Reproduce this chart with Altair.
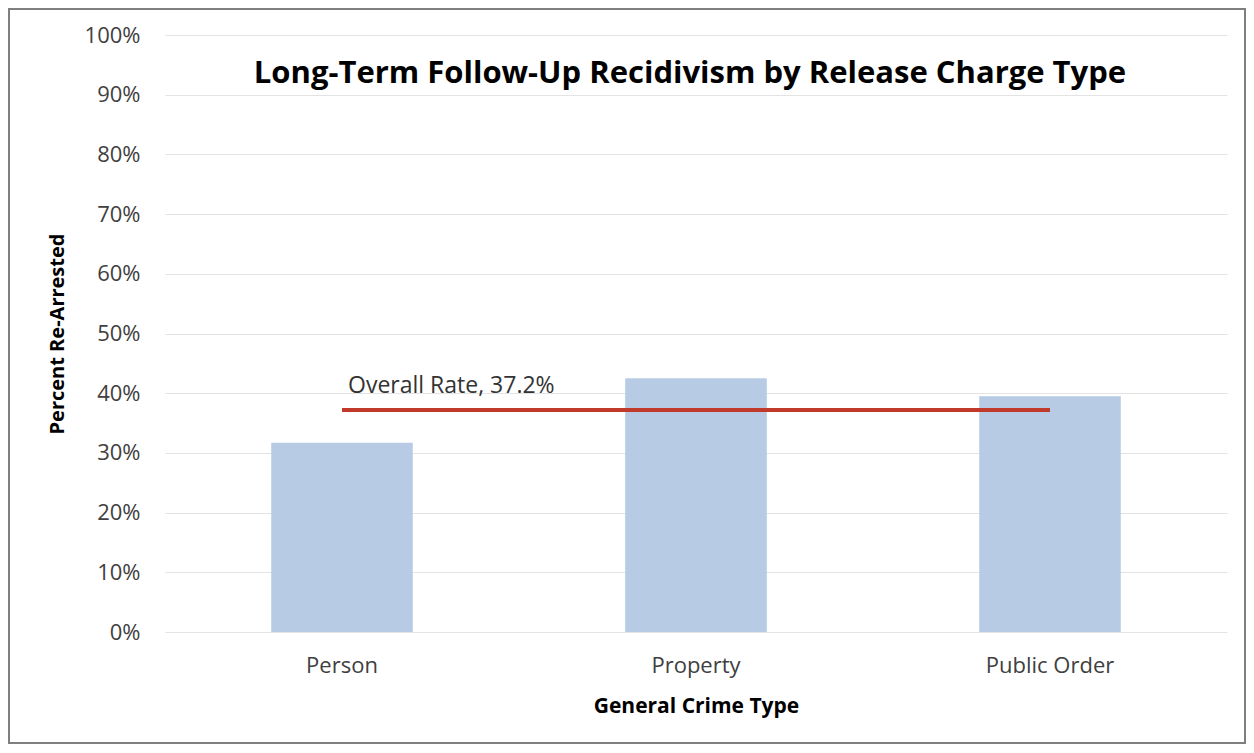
import altair as alt
import pandas as pd

categories = ["Person", "Property", "Public Order"]
rates = [31.7, 42.5, 39.5]
overall_rate = 37.2
overall_label = "Overall Rate, 37.2%"
title_text = "Long-Term Follow-Up Recidivism by Release Charge Type"
y_ticks = [0, 10, 20, 30, 40, 50, 60, 70, 80, 90, 100]

FONT = "Open Sans"

bars_df = pd.DataFrame({"type": categories, "rate": rates})
overall_df = pd.DataFrame({
    "start": [categories[0]],
    "end": [categories[-1]],
    "rate": [overall_rate],
    "label": [overall_label],
})

x_enc = alt.X(
    "type:N",
    sort=categories,
    scale=alt.Scale(domain=categories, paddingInner=0.6, paddingOuter=0.3),
    axis=alt.Axis(
        title="General Crime Type",
        titleFont=FONT, titleFontSize=21, titleFontWeight="bold", titleColor="#000000",
        titlePadding=19,
        labelFont=FONT, labelFontSize=22, labelColor="#404040", labelPadding=23,
        labelAngle=0, ticks=False, domain=False, grid=False,
    ),
)

y_scale = alt.Scale(domain=[0, 100], nice=False)

bars = alt.Chart(bars_df).mark_bar(color="#b7cbe5").encode(
    x=x_enc,
    y=alt.Y(
        "rate:Q",
        scale=y_scale,
        axis=alt.Axis(
            title="Percent Re-Arrested",
            titleFont=FONT, titleFontSize=20, titleFontWeight="bold", titleColor="#000000",
            titlePadding=17,
            labelFont=FONT, labelFontSize=22, labelColor="#404040", labelPadding=25,
            values=y_ticks, labelExpr="datum.value + '%'",
            ticks=False, domain=False, grid=True, gridColor="#e3e3e3", gridWidth=1,
        ),
    ),
)

rule = alt.Chart(overall_df).mark_rule(color="#c0392b", strokeWidth=4).encode(
    x=alt.X("start:N", sort=categories, scale=alt.Scale(domain=categories)),
    x2="end:N",
    y=alt.Y("rate:Q", scale=y_scale),
)

label = alt.Chart(overall_df).mark_text(
    font=FONT, fontSize=23, color="#333333", align="left", baseline="middle", dx=6, dy=-24
).encode(
    x=alt.X("start:N", sort=categories, scale=alt.Scale(domain=categories)),
    y=alt.Y("rate:Q", scale=y_scale),
    text="label:N",
)

title = alt.Chart(overall_df).mark_text(
    font=FONT, fontSize=31, fontWeight="bold", color="#000000", align="center", baseline="middle"
).encode(
    x=alt.value(525),
    y=alt.value(39),
    text=alt.datum(title_text),
)

frame = alt.Chart(overall_df).mark_rect(
    fill=None, stroke="#7f7f7f", strokeWidth=2
).encode(
    x=alt.value(-156), x2=alt.value(1080), y=alt.value(-26), y2=alt.value(708),
)

chart = alt.layer(bars, rule, label, title, frame).properties(
    width=1062,
    height=597,
    autosize=alt.AutoSizeParams(type="none"),
    padding={"left": 157, "top": 27, "right": 19, "bottom": 113},
).configure_view(stroke=None)

chart.save("out.html", embed_options={"renderer": "svg", "actions": False})
